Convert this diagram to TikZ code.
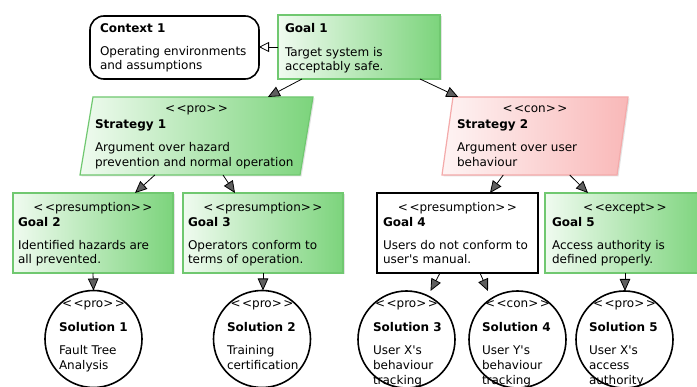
\documentclass[tikz,border=0pt]{standalone}
\usepackage{fontspec}
\setmainfont{DejaVu Sans}
\usetikzlibrary{arrows.meta,shadows,calc}
\definecolor{gfill}{RGB}{124,212,124}
\definecolor{gleft}{RGB}{240,251,240}
\definecolor{gline}{RGB}{112,200,112}
\definecolor{pfill}{RGB}{249,184,184}
\definecolor{pleft}{RGB}{254,244,244}
\definecolor{pline}{RGB}{244,170,170}
\definecolor{tipgray}{RGB}{95,95,95}
\newcommand\stypo[1]{<\kern1.5pt<#1>\kern1.5pt>}
\begin{document}
\begin{tikzpicture}[x=1pt,y=-1pt,
  every node/.style={inner sep=0pt,outer sep=0pt},
  lbl/.style={anchor=base west,font=\fontsize{12}{14}\selectfont},
  ttl/.style={anchor=base west,font=\fontsize{12}{14}\selectfont\bfseries},
  stereo/.style={anchor=base,font=\fontsize{12}{14}\selectfont},
  shd/.style={drop shadow={opacity=0.22,shadow xshift=1.5pt,shadow yshift=-1.5pt}},
  greenbox/.style={rectangle,draw=gline,line width=1.2pt,left color=gleft,right color=gfill,shd},
  greenpar/.style={draw=gline,line width=1.2pt,left color=gleft,right color=gfill,shd},
  pinkpar/.style={draw=pline,line width=1.2pt,left color=pleft,right color=pfill,shd},
  whitebox/.style={rectangle,draw=black,line width=1.6pt,fill=white},
  ctxbox/.style={rectangle,rounded corners=14pt,draw=black,line width=1.6pt,fill=white},
  solcirc/.style={circle,draw=black,line width=1.6pt,fill=white,minimum size=97pt},
  arr/.style={draw=black,line width=0.8pt,-{Triangle[length=12pt,width=10.5pt,fill=tipgray]}},
  ctxarr/.style={draw=black,line width=0.8pt,-{Triangle[length=10pt,width=10pt,fill=white]}}
]
\useasboundingbox (0,0) rectangle (697,387);
\fill[white] (0,0) rectangle (697,387);
\clip (0,0) rectangle (697,387);

% ---- top row
\node[ctxbox,minimum width=169pt,minimum height=63pt] (ctx) at (174.5,47.5) {};
\node[ttl] (ctxt) at (100,33) {Context 1};
\node[lbl] (ctxa) at (100,56) {Operating environments};
\node[lbl] (ctxb) at (100,70) {and assumptions};

\node[greenbox,minimum width=162pt,minimum height=64pt] (g1) at (359,47) {};
\node[ttl] (g1t) at (285,33) {Goal 1};
\node[lbl] (g1a) at (285,57) {Target system is};
\node[lbl] (g1b) at (285,71) {acceptably safe.};

% ---- strategies
\coordinate (s1tl) at (93,97);  \coordinate (s1tr) at (313,97);
\coordinate (s1br) at (300,175); \coordinate (s1bl) at (80,175);
\path[greenpar] (s1tl) -- (s1tr) -- (s1br) -- (s1bl) -- cycle;
\node[stereo] (s1s) at (196.5,113) {\stypo{pro}};
\node[ttl] (s1t) at (95,129) {Strategy 1};
\node[lbl] (s1a) at (95,152) {Argument over hazard};
\node[lbl] (s1b) at (95,167) {prevention and normal operation};

\coordinate (s2tl) at (453,97);  \coordinate (s2tr) at (628,97);
\coordinate (s2br) at (617,175); \coordinate (s2bl) at (442,175);
\path[pinkpar] (s2tl) -- (s2tr) -- (s2br) -- (s2bl) -- cycle;
\node[stereo] (s2s) at (535,113) {\stypo{con}};
\node[ttl] (s2t) at (457,129) {Strategy 2};
\node[lbl] (s2a) at (457,152) {Argument over user};
\node[lbl] (s2b) at (457,167) {behaviour};

% ---- goals row
\node[greenbox,minimum width=160pt,minimum height=80pt] (g2) at (93,233) {};
\node[stereo] (g2s) at (93,212) {\stypo{presumption}};
\node[ttl] (g2t) at (18,227) {Goal 2};
\node[lbl] (g2a) at (18,250) {Identified hazards are};
\node[lbl] (g2b) at (18,264) {all prevented.};

\node[greenbox,minimum width=160pt,minimum height=80pt] (g3) at (263,233) {};
\node[stereo] (g3s) at (263,212) {\stypo{presumption}};
\node[ttl] (g3t) at (188,227) {Goal 3};
\node[lbl] (g3a) at (188,250) {Operators conform to};
\node[lbl] (g3b) at (188,264) {terms of operation.};

\node[whitebox,minimum width=161pt,minimum height=80pt] (g4) at (457.5,233) {};
\node[stereo] (g4s) at (457.5,212) {\stypo{presumption}};
\node[ttl] (g4t) at (383,227) {Goal 4};
\node[lbl] (g4a) at (383,250) {Users do not conform to};
\node[lbl] (g4b) at (383,264) {user\textquotesingle s manual.};

\node[greenbox,minimum width=160pt,minimum height=80pt] (g5) at (625,233) {};
\node[stereo] (g5s) at (625,212) {\stypo{except}};
\node[ttl] (g5t) at (552,227) {Goal 5};
\node[lbl] (g5a) at (552,250) {Access authority is};
\node[lbl] (g5b) at (552,264) {defined properly.};

% ---- solutions
\node[solcirc] (sol1) at (93.5,339) {};
\node[stereo] (sol1s) at (93.5,308) {\stypo{pro}};
\node[ttl] (sol1t) at (59,332) {Solution 1};
\node[lbl] (sol1a) at (59,355) {Fault Tree};
\node[lbl] (sol1b) at (59,370) {Analysis};

\node[solcirc] (sol2) at (262,339) {};
\node[stereo] (sol2s) at (262,308) {\stypo{pro}};
\node[ttl] (sol2t) at (227,332) {Solution 2};
\node[lbl] (sol2a) at (227,355) {Training};
\node[lbl] (sol2b) at (227,370) {certification};

\node[solcirc] (sol3) at (406.5,339.5) {};
\node[stereo] (sol3s) at (406.5,308) {\stypo{pro}};
\node[ttl] (sol3t) at (373,332) {Solution 3};
\node[lbl] (sol3a) at (373,355) {User X\textquotesingle s};
\node[lbl] (sol3b) at (373,370) {behaviour};
\node[lbl] (sol3c) at (373,385) {tracking};

\node[solcirc] (sol4) at (517.5,339.5) {};
\node[stereo] (sol4s) at (517.5,308) {\stypo{con}};
\node[ttl] (sol4t) at (482,332) {Solution 4};
\node[lbl] (sol4a) at (482,355) {User Y\textquotesingle s};
\node[lbl] (sol4b) at (482,370) {behaviour};
\node[lbl] (sol4c) at (482,385) {tracking};

\node[solcirc] (sol5) at (624.5,339.5) {};
\node[stereo] (sol5s) at (624.5,308) {\stypo{pro}};
\node[ttl] (sol5t) at (589,332) {Solution 5};
\node[lbl] (sol5a) at (589,355) {User X\textquotesingle s};
\node[lbl] (sol5b) at (589,370) {access};
\node[lbl] (sol5c) at (589,385) {authority};

% ---- connectors
\draw[ctxarr] (g1.west) -- (g1.west -| ctx.east);
\draw[arr] ([xshift=-57pt]g1.south) -- ($(s1tl)!0.795!(s1tr)$);
\draw[arr] ([xshift=61pt]g1.south) -- ($(s2tl)!0.03!(s2tr)$);
\draw[arr] ($(s1bl)!0.34!(s1br)$) -- ([xshift=42pt]g2.north);
\draw[arr] ($(s1bl)!0.65!(s1br)$) -- ([xshift=-28pt]g3.north);
\draw[arr] ($(s2bl)!0.35!(s2br)$) -- ([xshift=32.5pt]g4.north);
\draw[arr] ($(s2bl)!0.73!(s2br)$) -- ([xshift=-37pt]g5.north);
\draw[arr] (g2.south) -- (sol1.north);
\draw[arr] (g3.south) -- (g3.south |- sol2.north);
\draw[arr] ([xshift=-17.5pt]g4.south) -- ([xshift=24pt]sol3.north);
\draw[arr] ([xshift=22.5pt]g4.south) -- ([xshift=-29.5pt]sol4.north);
\draw[arr] (g5.south) -- (g5.south |- sol5.north);
\end{tikzpicture}
\end{document}
